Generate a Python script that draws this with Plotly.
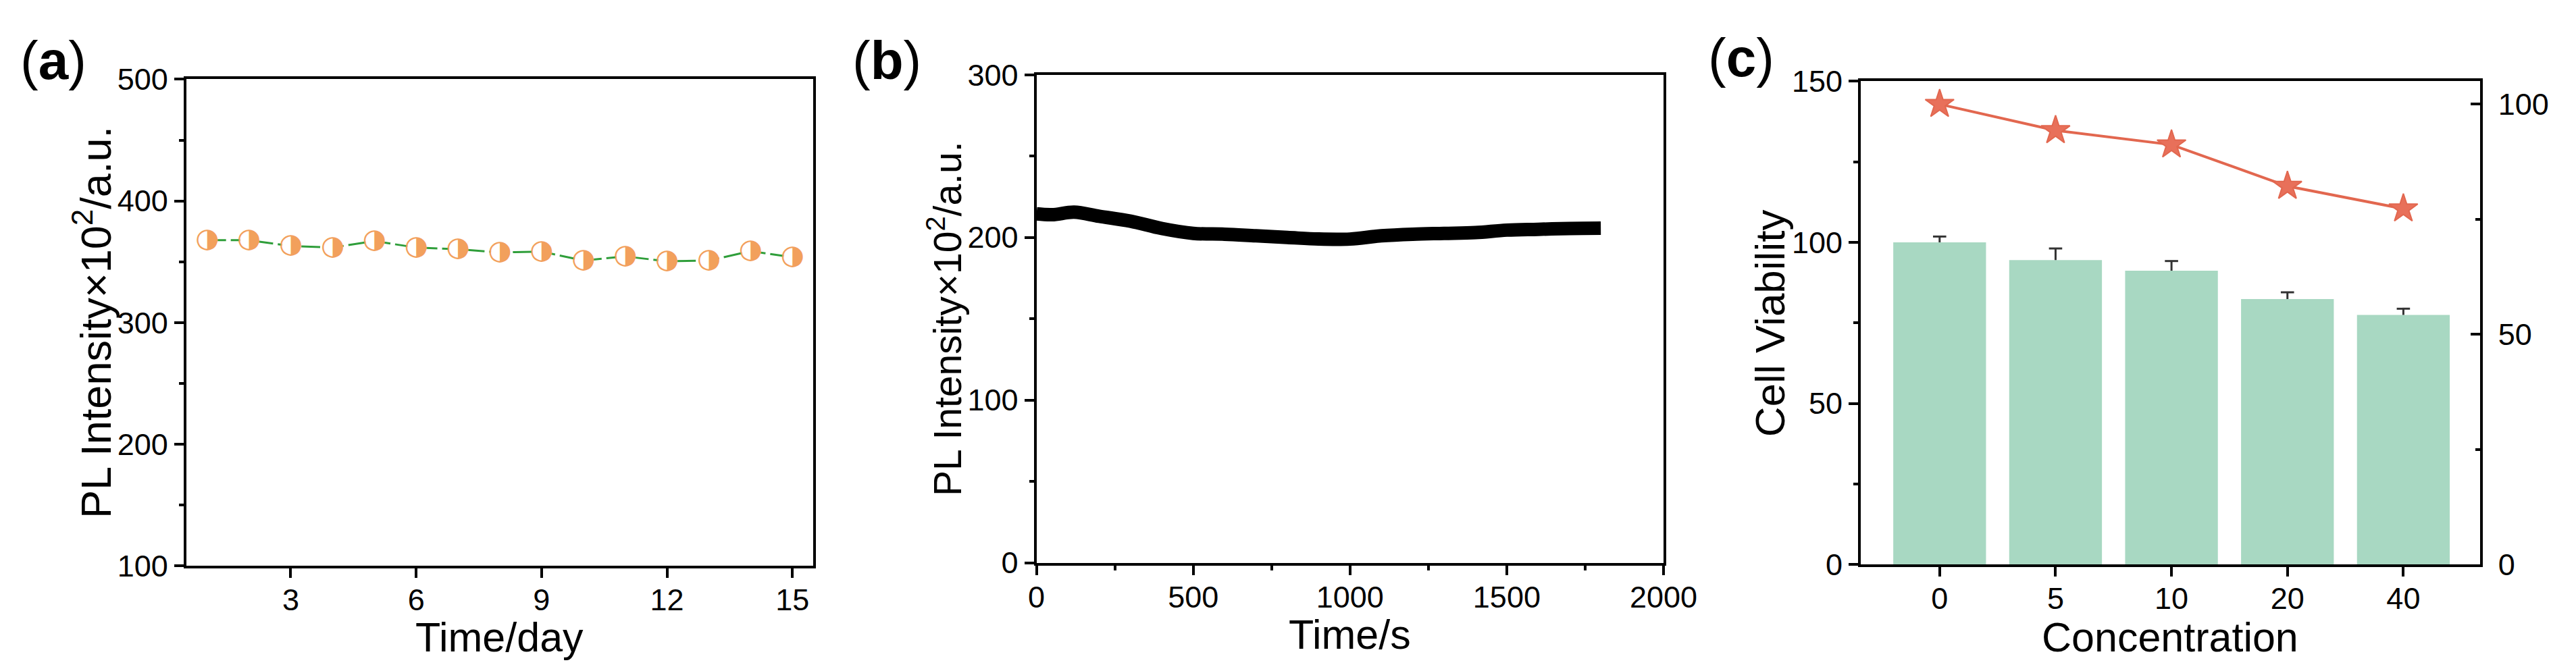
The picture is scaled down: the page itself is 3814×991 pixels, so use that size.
import plotly.graph_objects as go

# (a) PL intensity over days
days = list(range(1, 16))
pl_day = [367.7, 367.7, 363.0, 361.7, 367.0, 361.7, 360.3, 357.7, 358.4, 351.0, 354.4, 350.4, 351.0, 358.7, 353.7]

# (b) PL intensity over time (trend)
time_s = [0, 50, 120, 200, 300, 400, 500, 600, 700, 800, 900, 1000, 1100, 1200, 1300, 1400, 1500, 1600, 1700, 1800]
pl_time = [214.5, 214.0, 215.5, 213.0, 210.0, 205.5, 202.5, 202.0, 201.0, 200.0, 199.0, 199.0, 201.0, 202.0, 202.5, 203.0, 204.5, 205.0, 205.5, 205.7]

# (c) cell viability
conc = ['0', '5', '10', '20', '40']
viability = [100.0, 94.5, 91.2, 82.4, 77.5]
viability_err = [1.8, 3.6, 3.0, 2.1, 1.9]
viability_line = [100.0, 94.3, 91.2, 82.2, 77.3]

W, H = 3814, 991
FONT = 'Arial, Liberation Sans, sans-serif'


def px_x(p):
    return p / W


def px_y(p):
    return 1 - p / H


axis_style = dict(
    showline=True, linecolor='black', linewidth=4, mirror=True,
    ticks='outside', ticklen=14, tickwidth=4, tickcolor='black',
    showgrid=False, zeroline=False,
    tickfont=dict(size=45, family=FONT, color='black'),
)
minor_out = dict(ticks='outside', ticklen=7, tickwidth=4, tickcolor='black')

fig = go.Figure()

# panel a: dashed green line, white mask, half-filled circle glyphs
fig.add_trace(go.Scatter(
    x=days, y=pl_day, mode='lines',
    line=dict(color='#2f9e3a', width=3, dash='28px,7px'),
    xaxis='x', yaxis='y', showlegend=False,
))
fig.add_trace(go.Scatter(
    x=days, y=pl_day, mode='markers',
    marker=dict(symbol='circle', size=26, color='white', line=dict(width=0)),
    xaxis='x', yaxis='y', showlegend=False,
))
fig.add_trace(go.Scatter(
    x=days, y=pl_day, mode='text', text=['◑'] * len(days),
    textposition='middle center',
    textfont=dict(size=40, color='#f2a05c', family='DejaVu Sans'),
    xaxis='x', yaxis='y', showlegend=False,
))

# panel b: noisy trace drawn as a thick black band
fig.add_trace(go.Scatter(
    x=time_s, y=pl_time, mode='lines',
    line=dict(color='black', width=20, shape='spline'),
    xaxis='x2', yaxis='y2', showlegend=False,
))

# panel c: bars with upper error bars, star line on right axis
fig.add_trace(go.Bar(
    x=conc, y=viability, width=0.8,
    marker=dict(color='#a8d8c2', line=dict(width=0)),
    error_y=dict(type='data', array=viability_err, arrayminus=[0] * len(conc),
                 symmetric=False, color='#333333', thickness=3, width=0),
    xaxis='x3', yaxis='y3', showlegend=False,
))
fig.add_trace(go.Scatter(
    x=conc, y=[v + e for v, e in zip(viability, viability_err)], mode='markers',
    marker=dict(symbol='line-ew', size=14, line=dict(color='#333333', width=3)),
    xaxis='x3', yaxis='y3', showlegend=False,
))
fig.add_trace(go.Scatter(
    x=conc, y=viability_line, mode='lines+markers',
    line=dict(color='#e2674f', width=4),
    marker=dict(symbol='star', size=32, color='#e8705a', line=dict(color='#e2674f', width=2)),
    xaxis='x3', yaxis='y4', showlegend=False,
))

fig.update_layout(
    width=W, height=H,
    paper_bgcolor='white', plot_bgcolor='white',
    margin=dict(l=0, r=0, t=0, b=0),
    font=dict(family=FONT, color='black'),
    xaxis=dict(axis_style, domain=[px_x(259), px_x(1203)], anchor='y',
               range=[0.5, 15.5], tickvals=[3, 6, 9, 12, 15], ticklabelstandoff=-6),
    yaxis=dict(axis_style, domain=[px_y(849), px_y(89)], anchor='x',
               range=[100, 500], tickvals=[100, 200, 300, 400, 500],
               minor=dict(minor_out, dtick=50)),
    xaxis2=dict(axis_style, domain=[px_x(1539), px_x(2483)], anchor='y2',
                range=[0, 2000], tickvals=[0, 500, 1000, 1500, 2000],
                ticklabelstandoff=-6, minor=dict(minor_out, dtick=250)),
    yaxis2=dict(axis_style, domain=[px_y(844), px_y(82)], anchor='x2',
                range=[0, 300], tickvals=[0, 100, 200, 300],
                minor=dict(minor_out, dtick=50)),
    xaxis3=dict(axis_style, domain=[px_x(2780), px_x(3712)], anchor='y3',
                type='category', range=[-0.68, 4.66], ticklabelstandoff=-6),
    yaxis3=dict(axis_style, domain=[px_y(847), px_y(92)], anchor='x3',
                range=[0, 150], tickvals=[0, 50, 100, 150],
                minor=dict(minor_out, dtick=25)),
    yaxis4=dict(axis_style, overlaying='y3', side='right', anchor='x3',
                range=[0, 105], tickvals=[0, 50, 100], mirror=False,
                ticks='inside', ticklabelstandoff=14,
                minor=dict(ticks='inside', ticklen=7, tickwidth=4, tickcolor='black', dtick=25)),
)

# panel labels
for lbl, cx, cy in [('a', 59, 60), ('b', 1314, 60), ('c', 2600, 55)]:
    fig.add_annotation(text='(<b>' + lbl + '</b>)', x=px_x(cx), y=px_y(cy),
                       xref='paper', yref='paper', showarrow=False,
                       xanchor='center', yanchor='middle',
                       font=dict(size=80, family=FONT, color='black'))

# axis titles
titles_x = [('Time/day', 731, 960), ('Time/s', 2011, 956), ('Concentration', 3246, 960)]
for txt, cx, cy in titles_x:
    fig.add_annotation(text=txt, x=px_x(cx), y=px_y(cy), xref='paper', yref='paper',
                       showarrow=False, xanchor='center', yanchor='middle',
                       font=dict(size=61, family=FONT, color='black'))

titles_y = [('PL Intensity×10<sup>2</sup>/a.u.', 118, 469, 63),
            ('PL Intensity×10<sup>2</sup>/a.u.', 1401, 463, 57),
            ('Cell Viability', 2643, 470, 62)]
for txt, cx, cy, fs in titles_y:
    fig.add_annotation(text=txt, x=px_x(cx), y=px_y(cy), xref='paper', yref='paper',
                       showarrow=False, xanchor='center', yanchor='middle', textangle=-90,
                       font=dict(size=fs, family=FONT, color='black'))

fig.write_html("out.html")
